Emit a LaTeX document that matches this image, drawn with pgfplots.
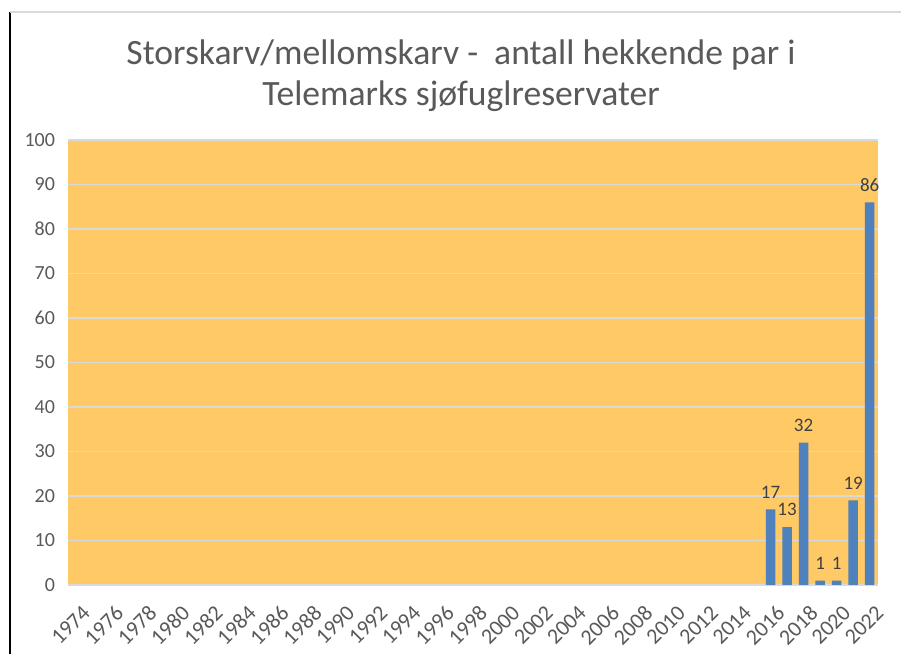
\documentclass[border=0pt]{standalone}
\usepackage{pgfplots}
\pgfplotsset{compat=1.18}
\usepackage{fontspec}
\setmainfont{Carlito}
\definecolor{plotbg}{HTML}{FFC966}
\definecolor{barblue}{HTML}{4F81BD}
\definecolor{gridgrey}{HTML}{D9D9D9}
\definecolor{txtgrey}{HTML}{595959}
\definecolor{lblgrey}{HTML}{404040}
\begin{document}
\begin{tikzpicture}
% frame of the page (1 px of the reference = 0.5pt, y up)
\begin{scope}[x=0.5pt,y=0.5pt]
\path[use as bounding box] (0,0) rectangle (901,654);
\draw[black,line width=1pt] (10,0) -- (10,642);
\draw[gridgrey,line width=1pt] (10,642) -- (901,642);
\node[align=center,text=txtgrey,font=\fontsize{17.8}{20.5}\selectfont] at (461,578) {Storskarv/mellomskarv -\ \ antall hekkende par i\\Telemarks sjøfuglreservater};
\end{scope}
\begin{axis}[
    at={(34pt,34.5pt)}, anchor=south west,
    scale only axis,
    width=405pt, height=222.5pt,
    xmin=1973.5, xmax=2022.5,
    ymin=0, ymax=100,
    ytick={0,10,...,100},
    xtick={1974,1976,...,2022},
    axis background/.style={fill=plotbg},
    axis line style={draw=none},
    major tick length=0pt,
    ymajorgrids,
    grid style={gridgrey,line width=0.75pt},
    /pgf/number format/1000 sep={},
    /pgf/number format/assume math mode=true,
    ticklabel style={text=txtgrey},
    yticklabel style={font=\fontsize{10}{12}\selectfont,xshift=-3pt},
    xticklabel style={font=\fontsize{11}{13}\selectfont,rotate=45,anchor=north east,yshift=-5pt,xshift=-1.5pt},
    ybar, bar width=4.75pt,
    nodes near coords,
    every node near coord/.append style={font=\fontsize{9.5}{11}\selectfont,text=lblgrey,yshift=2pt},
]
\addplot[fill=barblue,draw=none] coordinates {
    (2016,17) (2017,13) (2018,32) (2019,1) (2020,1) (2021,19) (2022,86)
};
\end{axis}
\end{tikzpicture}
\end{document}
